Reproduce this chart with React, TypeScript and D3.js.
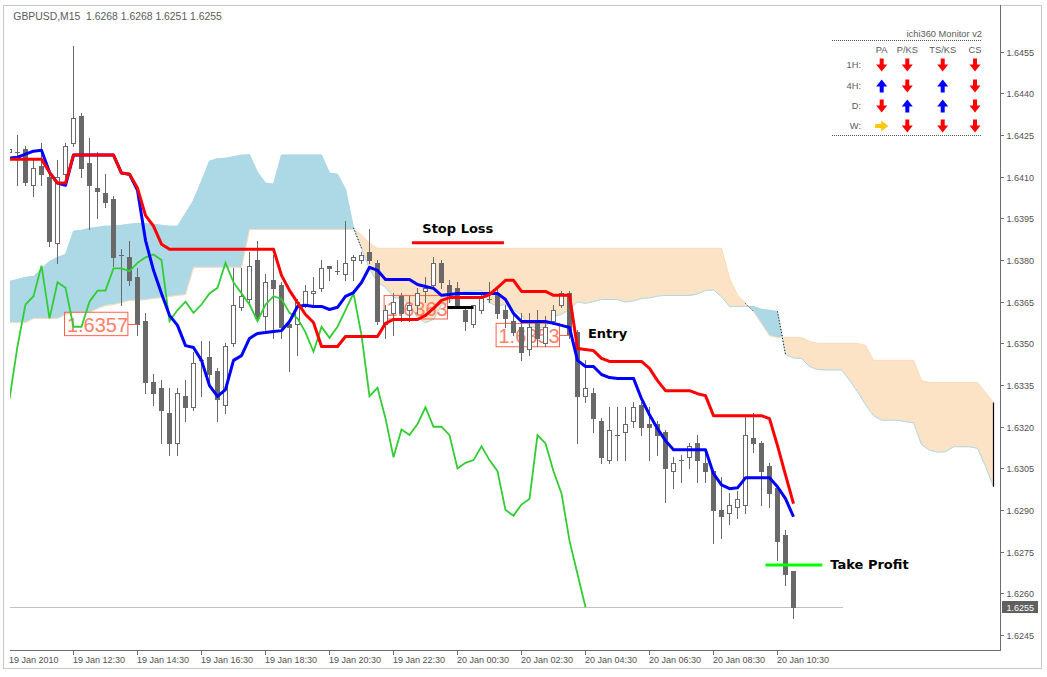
import React from "react";
import * as d3 from "d3";

// ---------- DATA ----------
const symbolText = "GBPUSD,M15";
const priceTicks = [1.6455, 1.644, 1.6425, 1.641, 1.6395, 1.638, 1.6365, 1.635, 1.6335, 1.632, 1.6305, 1.629, 1.6275, 1.626, 1.6245];
const timeLabels = ["19 Jan 2010", "19 Jan 12:30", "19 Jan 14:30", "19 Jan 16:30", "19 Jan 18:30", "19 Jan 20:30", "19 Jan 22:30", "20 Jan 00:30", "20 Jan 02:30", "20 Jan 04:30", "20 Jan 06:30", "20 Jan 08:30", "20 Jan 10:30"];
const timeLabelBars = [0, 8, 16, 24, 32, 40, 48, 56, 64, 72, 80, 88, 96];

const opens = [
  1.6419, 1.6419, 1.642, 1.6407, 1.6414, 1.641, 1.6386, 1.6411, 1.6422, 1.6432,
  1.6415, 1.6406, 1.6404, 1.6402, 1.6382, 1.6381, 1.6374, 1.6358, 1.6336, 1.6334,
  1.6325, 1.6314, 1.6331, 1.6327, 1.6344, 1.6345, 1.634, 1.6328, 1.635, 1.6363,
  1.6366, 1.638, 1.636, 1.6373, 1.6371, 1.6357, 1.6357, 1.6364, 1.6368, 1.637,
  1.6378, 1.6376, 1.6375, 1.638, 1.638, 1.6383, 1.6379, 1.6357, 1.6361, 1.6367,
  1.6362, 1.6364, 1.6369, 1.6371, 1.6379, 1.6371, 1.637, 1.6362, 1.6357, 1.6362,
  1.6366, 1.6368, 1.6362, 1.6358, 1.6356, 1.6348, 1.6358, 1.635, 1.6358, 1.6364,
  1.6368, 1.6354, 1.6331, 1.6332, 1.6322, 1.6308, 1.6317, 1.6318, 1.6322, 1.6328,
  1.6321, 1.6321, 1.6318, 1.6304, 1.6308, 1.6309, 1.6314, 1.6307, 1.6304, 1.629,
  1.6289, 1.6291, 1.6292, 1.6316, 1.6314, 1.6306, 1.6298, 1.6281, 1.6268
];
const highs = [
  1.6421, 1.6425, 1.6421, 1.6416, 1.6422, 1.6411, 1.6416, 1.6422, 1.6457, 1.6433,
  1.6424, 1.6419, 1.6411, 1.6403, 1.6384, 1.6387, 1.6377, 1.6361, 1.6339, 1.6337,
  1.6334, 1.6334, 1.6337, 1.6347, 1.6351, 1.6351, 1.6341, 1.635, 1.6377, 1.6377,
  1.6383, 1.6387, 1.6375, 1.6382, 1.6372, 1.6358, 1.6366, 1.6371, 1.6374, 1.638,
  1.6378, 1.638, 1.6394, 1.6382, 1.6383, 1.6391, 1.638, 1.6364, 1.6368, 1.6368,
  1.6367, 1.637, 1.6374, 1.6381, 1.638, 1.6373, 1.6372, 1.6363, 1.6364, 1.6368,
  1.6372, 1.637, 1.6364, 1.6361, 1.6361, 1.6361, 1.6362, 1.636, 1.6364, 1.6369,
  1.6369, 1.6355, 1.6344, 1.6334, 1.6323, 1.6327, 1.6327, 1.6327, 1.6329, 1.6329,
  1.6327, 1.6322, 1.6319, 1.6309, 1.631, 1.6314, 1.6317, 1.6311, 1.6304, 1.6302,
  1.6296, 1.6297, 1.6324, 1.6325, 1.6315, 1.6307, 1.6299, 1.6283, 1.6268
];
const lows = [
  1.6418, 1.6407, 1.6407, 1.6403, 1.6407, 1.6385, 1.6379, 1.641, 1.6421, 1.641,
  1.6391, 1.6395, 1.6399, 1.6378, 1.6364, 1.6371, 1.6353, 1.6332, 1.6328, 1.6314,
  1.631, 1.631, 1.6322, 1.6326, 1.6331, 1.6336, 1.6322, 1.6325, 1.6349, 1.6362,
  1.6365, 1.6358, 1.6355, 1.6352, 1.6352, 1.634, 1.6346, 1.6363, 1.6364, 1.6369,
  1.6373, 1.6375, 1.6373, 1.6373, 1.6379, 1.6379, 1.6357, 1.6352, 1.6353, 1.6358,
  1.6358, 1.6361, 1.6365, 1.637, 1.637, 1.6365, 1.6363, 1.6355, 1.6356, 1.6361,
  1.6365, 1.6359, 1.6356, 1.6353, 1.6344, 1.6346, 1.6349, 1.6349, 1.6357, 1.6363,
  1.6352, 1.6314, 1.6329, 1.6318, 1.6307, 1.6307, 1.6308, 1.6308, 1.632, 1.6317,
  1.6308, 1.631, 1.6293, 1.6298, 1.63, 1.6305, 1.63, 1.63, 1.6278, 1.628,
  1.6285, 1.6287, 1.6289, 1.6311, 1.6292, 1.6291, 1.6272, 1.6263, 1.6251
];
const closes = [
  1.642, 1.6419, 1.6408, 1.6413, 1.6411, 1.6387, 1.641, 1.6421, 1.6431, 1.6413,
  1.6407, 1.6405, 1.6401, 1.6381, 1.6382, 1.6373, 1.6357, 1.6336, 1.6332, 1.6326,
  1.6314, 1.6332, 1.6327, 1.6343, 1.6344, 1.6339, 1.633, 1.6349, 1.6364, 1.6367,
  1.6378, 1.6359, 1.6372, 1.637, 1.6356, 1.6356, 1.6365, 1.6369, 1.6369, 1.6377,
  1.6377, 1.6376, 1.6379, 1.6381, 1.6382, 1.638, 1.6358, 1.6362, 1.6365, 1.6361,
  1.6364, 1.6368, 1.637, 1.6379, 1.6372, 1.6368, 1.6364, 1.6358, 1.6364, 1.6367,
  1.6366, 1.6361, 1.6359, 1.6354, 1.6347, 1.6356, 1.6352, 1.6356, 1.6362, 1.6368,
  1.6353, 1.6331, 1.6334, 1.6323, 1.6309, 1.6319, 1.6317, 1.6321, 1.6327, 1.632,
  1.632, 1.6317, 1.6305, 1.6307, 1.6308, 1.6313, 1.6308, 1.6304, 1.629, 1.6288,
  1.6292, 1.6294, 1.6317, 1.6314, 1.6304, 1.6296, 1.6279, 1.6267, 1.6255
];

// Kijun-style line (red)
const redLine = [
  1.64163, 1.64163, 1.64163, 1.64163, 1.64163, 1.64116, 1.64077, 1.64077, 1.64178, 1.64178,
  1.64178, 1.64178, 1.64178, 1.64178, 1.64113, 1.64109, 1.64059, 1.63961, 1.63922, 1.63857,
  1.63839, 1.63839, 1.63839, 1.63839, 1.63839, 1.63839, 1.63839, 1.63839, 1.63839, 1.63839,
  1.63839, 1.63839, 1.63839, 1.63839, 1.63745, 1.63691, 1.63647, 1.63604, 1.63575, 1.63489,
  1.63489, 1.63489, 1.63525, 1.63525, 1.63525, 1.63525, 1.63525, 1.63572, 1.63586, 1.63586,
  1.63586, 1.63586, 1.63601, 1.63626, 1.63655, 1.63665, 1.63665, 1.63665, 1.63665, 1.63665,
  1.63676, 1.63701, 1.63727, 1.63727, 1.63687, 1.63687, 1.63687, 1.63687, 1.63673, 1.63673,
  1.63673, 1.63482, 1.63478, 1.63474, 1.63446, 1.63435, 1.63435, 1.63435, 1.63435, 1.63435,
  1.6341, 1.63366, 1.6333, 1.6333, 1.6333, 1.6333, 1.63319, 1.63312, 1.6324, 1.6324,
  1.6324, 1.6324, 1.6324, 1.6324, 1.6324, 1.63229, 1.63132, 1.63027, 1.62923
];
// Tenkan-style line (blue)
const blueLine = [
  1.64167, 1.6417, 1.64181, 1.64192, 1.64195, 1.64116, 1.64077, 1.64069, 1.64178, 1.64178,
  1.64178, 1.64178, 1.64178, 1.64178, 1.64113, 1.64109, 1.64051, 1.63871, 1.63763, 1.6368,
  1.63601, 1.63565, 1.63492, 1.63485, 1.63439, 1.63348, 1.63309, 1.63334, 1.63439, 1.63456,
  1.63518, 1.63536, 1.63539, 1.63543, 1.63546, 1.63579, 1.63633, 1.63637, 1.63633, 1.63633,
  1.63622, 1.6363, 1.63669, 1.63683, 1.63719, 1.63774, 1.63763, 1.6373, 1.6373, 1.6373,
  1.6373, 1.63712, 1.63705, 1.63698, 1.63673, 1.63676, 1.6368, 1.6368, 1.6368, 1.6368,
  1.6368, 1.6368, 1.63658, 1.63608, 1.63579, 1.63579, 1.63579, 1.63579, 1.63572, 1.63565,
  1.63557, 1.63439, 1.63417, 1.63417, 1.63388, 1.63377, 1.63374, 1.63374, 1.63374, 1.63301,
  1.63243, 1.63193, 1.6315, 1.63117, 1.63117, 1.63117, 1.63117, 1.63117, 1.63031, 1.62991,
  1.62977, 1.6298, 1.63016, 1.63016, 1.63016, 1.63016, 1.62984, 1.62941, 1.62876
];
// Senkou span A for the first 26 bars (projected from earlier, unseen bars)
const spanAHead = [
  1.63723, 1.6373, 1.63738, 1.63741, 1.6377, 1.63795, 1.6381, 1.6382, 1.63904, 1.63907,
  1.63914, 1.63918, 1.63922, 1.63922, 1.63925, 1.63929, 1.63932, 1.63932, 1.63929, 1.63925,
  1.63922, 1.63922, 1.63968, 1.64015, 1.64084, 1.64156
];
// Senkou span B (bars 0..123, incl. 25 projected bars)
const spanB = [
  1.63575, 1.63575, 1.63575, 1.6359, 1.6359, 1.6359, 1.6359, 1.63604, 1.63611, 1.63611,
  1.63611, 1.63626, 1.63637, 1.6364, 1.63647, 1.63655, 1.63655, 1.63658, 1.63662, 1.63665,
  1.63669, 1.63673, 1.63676, 1.63774, 1.63774, 1.63774, 1.63774, 1.63774, 1.63774, 1.63774,
  1.6391, 1.6391, 1.6391, 1.6391, 1.6391, 1.6391, 1.6391, 1.6391, 1.6391, 1.6391,
  1.6391, 1.6391, 1.6391, 1.6391, 1.6389, 1.6386, 1.63842, 1.63842, 1.63842, 1.63842,
  1.63842, 1.63842, 1.63842, 1.63842, 1.63842, 1.63842, 1.63842, 1.63842, 1.63842, 1.63842,
  1.63842, 1.63842, 1.63842, 1.63842, 1.63842, 1.63842, 1.63842, 1.63842, 1.63842, 1.63842,
  1.63842, 1.63842, 1.63842, 1.63842, 1.63842, 1.63842, 1.63842, 1.63842, 1.63842, 1.63842,
  1.63842, 1.63842, 1.63842, 1.63842, 1.63842, 1.63842, 1.63842, 1.63842, 1.63842, 1.63842,
  1.63734, 1.63673, 1.63644, 1.63615, 1.63572, 1.63528, 1.63521, 1.63521, 1.63521, 1.63521,
  1.63507, 1.635, 1.635, 1.635, 1.635, 1.635, 1.635, 1.63492, 1.63439, 1.63439,
  1.63439, 1.63439, 1.63439, 1.63439, 1.63366, 1.63359, 1.63359, 1.63359, 1.63359, 1.63359,
  1.63359, 1.63359, 1.63323, 1.63287
];

// price labels (objects)
const priceLabels = [
  { text: "1.6357", price: 1.6357, bar: 16, gap: 9.6, lineColor: "#ff6347", lineWidth: 1 },
  { text: "1.6363", price: 1.6363, bar: 58, gap: 26, lineColor: "#000000", lineWidth: 3 },
  { text: "1.6353", price: 1.6353, bar: 70, gap: 10, lineColor: "#ff6347", lineWidth: 1 },
];
const textNotes = [
  { text: "Stop Loss", bar: 51.6, price: 1.63898 },
  { text: "Entry", bar: 72.3, price: 1.6352 },
  { text: "Take Profit", bar: 102.6, price: 1.62688 },
];
const levelLines = [
  { price: 1.63862, from: 50.3, to: 61.8, color: "#ff0000" },
  { price: 1.62702, from: 94.5, to: 101.6, color: "#00ff00" },
];

// monitor panel
const monitorTitle = "ichi360 Monitor v2";
const monitorCols = ["PA", "P/KS", "TS/KS", "CS"];
const monitorRows = ["1H:", "4H:", "D:", "W:"];
const monitorSignals = [
  ["down", "down", "down", "down"],
  ["up", "down", "up", "down"],
  ["down", "up", "up", "down"],
  ["right", "down", "down", "down"],
];

// ---------- COMPONENT ----------
const FONT = "'Liberation Sans', Arial, sans-serif";
const BOLD = "'DejaVu Sans', sans-serif";
const CANDLE = "#696969";

function arrowPath(cx: number, cy: number) {
  return `M${cx - 2},${cy - 6.5}H${cx + 2}V${cy - 0.5}H${cx + 5.5}L${cx},${cy + 6.5}L${cx - 5.5},${cy - 0.5}H${cx - 2}Z`;
}

export default function App() {
  const x = d3.scaleLinear().domain([0, 123]).range([9, 993]);
  const y = d3.scaleLinear().domain([1.6245, 1.6455]).range([635.1, 51.7]);
  const px = (i: number) => x(i) + 0.5;
  const fmt = d3.format(".4f");

  const n = closes.length;
  const spanA = [...spanAHead, ...blueLine.slice(0, n - 1).map((b, i) => (b + redLine[i]) / 2)];
  const chikou = closes.slice(26);

  // cloud
  let bluePath = "";
  let bisquePath = "";
  const dotted: string[] = [];
  const poly = (pts: number[][]) => "M" + pts.map((p) => p[0].toFixed(2) + "," + p[1].toFixed(2)).join("L") + "Z";
  for (let j = 0; j < spanA.length - 1; j++) {
    const a0 = spanA[j], b0 = spanB[j], a1 = spanA[j + 1], b1 = spanB[j + 1];
    const d0 = a0 - b0, d1 = a1 - b1;
    const x0 = px(j), x1 = px(j + 1);
    if (d0 >= 0 && d1 >= 0) bluePath += poly([[x0, y(a0)], [x1, y(a1)], [x1, y(b1)], [x0, y(b0)]]);
    else if (d0 <= 0 && d1 <= 0) bisquePath += poly([[x0, y(a0)], [x1, y(a1)], [x1, y(b1)], [x0, y(b0)]]);
    else {
      const t = d0 / (d0 - d1);
      const xc = x0 + t * (x1 - x0);
      const yc = y(a0 + t * (a1 - a0));
      const first = poly([[x0, y(a0)], [xc, yc], [x0, y(b0)]]);
      const second = poly([[xc, yc], [x1, y(a1)], [x1, y(b1)]]);
      if (d0 > 0) { bluePath += first; bisquePath += second; } else { bisquePath += first; bluePath += second; }
      const useA = Math.abs(a1 - a0) > Math.abs(b1 - b0);
      dotted.push(useA ? `M${x0},${y(a0)}L${x1},${y(a1)}` : `M${x0},${y(b0)}L${x1},${y(b1)}`);
    }
  }
  const lastC = spanA.length - 1;

  const lineGen = d3.line<number>().x((_, i) => px(i)).y((d) => y(d));

  const last = n - 1;
  const header = `${symbolText}  ${fmt(opens[last])} ${fmt(highs[last])} ${fmt(lows[last])} ${fmt(closes[last])}`;
  const bidY = Math.round(y(closes[last])) + 0.5;

  const colX = [881.7, 907.3, 942.7, 975];
  const rowY = [65, 86, 106, 126];

  return (
    <svg width={1047} height={677} style={{ position: "absolute", left: 0, top: 0, background: "#fff" }}>
      <defs>
        <clipPath id="plot">
          <rect x={10} y={5} width={990} height={645} />
        </clipPath>
      </defs>
      <rect x={0} y={0} width={1047} height={677} fill="#fff" />
      <rect x={3.5} y={5.5} width={1038} height={663} fill="none" stroke="#c8c8c8" />

      <g clipPath="url(#plot)">
        {/* cloud */}
        <path d={bluePath} fill="#add8e6" stroke="#add8e6" strokeWidth={0.6} />
        <path d={bisquePath} fill="#fde3c5" stroke="#fde3c5" strokeWidth={0.6} />
        <path d={lineGen(spanB) || ""} fill="none" stroke="#fcdcb8" strokeWidth={1} />
        <path d={lineGen(spanA) || ""} fill="none" stroke="#add8e6" strokeWidth={1} />
        {dotted.map((d, i) => (
          <path key={i} d={d} stroke="#000" strokeWidth={1} strokeDasharray="1,2" fill="none" />
        ))}
        <line x1={px(lastC)} x2={px(lastC)} y1={y(spanA[lastC])} y2={y(spanB[lastC])} stroke="#000" strokeWidth={1.2} />

        {/* bid line */}
        <line x1={10} x2={843} y1={bidY} y2={bidY} stroke="#c0c0c0" strokeWidth={1} />

        {/* price label boxes */}
        {priceLabels.map((l, i) => {
          const right = px(l.bar) - l.gap;
          const cy = y(l.price);
          return (
            <g key={i}>
              <rect x={right - 63.4} y={cy - 11.7} width={63.4} height={23.4} fill="none" stroke="#ff6347" strokeWidth={1} />
              <text x={right - 61} y={cy + 8.3} fontFamily={FONT} fontSize={20} fill="#ff8068">{l.text}</text>
            </g>
          );
        })}

        {/* candles */}
        {closes.map((c, i) => {
          const o = opens[i];
          const cx = Math.round(x(i));
          const top = Math.round(y(Math.max(o, c)));
          const bot = Math.round(y(Math.min(o, c)));
          const bull = c > o;
          return (
            <g key={i}>
              <line x1={cx + 0.5} x2={cx + 0.5} y1={Math.round(y(highs[i]))} y2={Math.round(y(lows[i])) + 1} stroke={CANDLE} strokeWidth={1} />
              {c === o ? (
                <line x1={cx - 2} x2={cx + 3} y1={top + 0.5} y2={top + 0.5} stroke={CANDLE} strokeWidth={1} />
              ) : bull ? (
                <rect x={cx - 1.5} y={top + 0.5} width={4} height={Math.max(bot - top, 1)} fill="#fff" stroke={CANDLE} strokeWidth={1} />
              ) : (
                <rect x={cx - 2} y={top} width={5} height={Math.max(bot - top + 1, 1)} fill={CANDLE} />
              )}
            </g>
          );
        })}

        {/* label connectors */}
        {priceLabels.map((l, i) => {
          const right = px(l.bar) - l.gap;
          const cy = Math.round(y(l.price)) + 0.5;
          return <line key={i} x1={right} x2={px(l.bar)} y1={cy} y2={cy} stroke={l.lineColor} strokeWidth={l.lineWidth} />;
        })}

        {/* indicator lines */}
        <path d={lineGen(chikou) || ""} fill="none" stroke="#32cd32" strokeWidth={1.8} />
        <path d={lineGen(blueLine) || ""} fill="none" stroke="#0000ff" strokeWidth={3} strokeLinejoin="round" />
        <path d={lineGen(redLine) || ""} fill="none" stroke="#ff0000" strokeWidth={3} strokeLinejoin="round" />

        {/* level lines */}
        {levelLines.map((l, i) => (
          <line key={i} x1={px(l.from)} x2={px(l.to)} y1={y(l.price)} y2={y(l.price)} stroke={l.color} strokeWidth={3} />
        ))}
        {textNotes.map((t, i) => (
          <text key={i} x={px(t.bar)} y={y(t.price)} fontFamily={BOLD} fontWeight="bold" fontSize={13} fill="#000">{t.text}</text>
        ))}
      </g>

      {/* header */}
      <text x={13.3} y={19.8} fontFamily={FONT} fontSize={10.4} fill="#5a5a5a" style={{ whiteSpace: "pre" }}>{header}</text>

      {/* monitor panel */}
      <text x={982} y={37} textAnchor="end" fontFamily={FONT} fontSize={9.3} fill="#5a5a5a">{monitorTitle}</text>
      <line x1={832} x2={982} y1={40.5} y2={40.5} stroke="#555" strokeDasharray="1,1" />
      {monitorCols.map((c, i) => (
        <text key={c} x={colX[i]} y={53} textAnchor="middle" fontFamily={FONT} fontSize={9.3} fill="#5a5a5a">{c}</text>
      ))}
      {monitorRows.map((r, i) => (
        <text key={r} x={861} y={rowY[i] + 3.3} textAnchor="end" fontFamily={FONT} fontSize={9.3} fill="#5a5a5a">{r}</text>
      ))}
      {monitorSignals.map((row, ri) =>
        row.map((s, ci) => {
          const cx = colX[ci], cy = rowY[ri];
          const rot = s === "down" ? 0 : s === "up" ? 180 : -90;
          const col = s === "down" ? "#ff0000" : s === "up" ? "#0000ff" : "#ffc800";
          return <path key={ri + "-" + ci} d={arrowPath(cx, cy)} fill={col} transform={`rotate(${rot},${cx},${cy})`} />;
        })
      )}
      <line x1={832} x2={982} y1={135.5} y2={135.5} stroke="#555" strokeDasharray="1,1" />

      {/* axes */}
      <line x1={1000.5} x2={1000.5} y1={5} y2={651} stroke="#6d6d6d" strokeWidth={1} />
      <line x1={10} x2={1001} y1={650.5} y2={650.5} stroke="#6d6d6d" strokeWidth={1} />
      {priceTicks.map((p) => {
        const ty = Math.round(y(p)) + 0.5;
        return (
          <g key={p}>
            <line x1={1000} x2={1004} y1={ty} y2={ty} stroke="#6d6d6d" />
            <text x={1006.5} y={ty + 3.3} fontFamily={FONT} fontSize={9} fill="#505050">{fmt(p)}</text>
          </g>
        );
      })}
      <rect x={1002} y={bidY - 6.5} width={36} height={12} fill="#606060" />
      <text x={1006.5} y={bidY + 3.3} fontFamily={FONT} fontSize={9} fill="#fff">{fmt(closes[last])}</text>

      {timeLabels.map((t, i) => {
        const b = timeLabelBars[i];
        const tx = px(b);
        return (
          <g key={t}>
            {i > 0 && <line x1={tx} x2={tx} y1={650} y2={655} stroke="#6d6d6d" />}
            <text x={Math.max(tx - 0.5, 9)} y={663} fontFamily={FONT} fontSize={9} fill="#505050">{t}</text>
          </g>
        );
      })}
    </svg>
  );
}
